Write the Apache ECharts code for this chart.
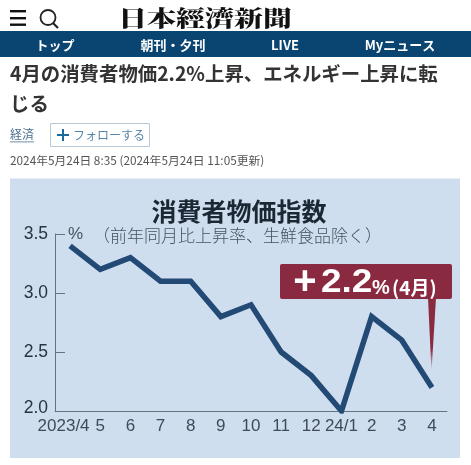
<!DOCTYPE html>
<html>
<head>
<meta charset="utf-8">
<style>
  html, body { margin: 0; padding: 0; background: #fff; }
  #chart { width: 471px; height: 465px; }
</style>
<script src="https://cdn.jsdelivr.net/npm/echarts@6/dist/echarts.min.js"></script>
</head>
<body>
<div id="chart"></div>
<script>
// 消費者物価指数
const months = ['2023/4', '5', '6', '7', '8', '9', '10', '11', '12', '24/1', '2', '3', '4'];
const cpi = [3.4, 3.2, 3.3, 3.1, 3.1, 2.8, 2.9, 2.5, 2.3, 2.0, 2.8, 2.6, 2.2];
const navItems = ['トップ', '朝刊・夕刊', 'LIVE', 'Myニュース'];
const headline = ['4月の消費者物価2.2%上昇、エネルギー上昇に転', 'じる'];
const dateline = '2024年5月24日 8:35 (2024年5月24日 11:05更新)';

const CJK = '"Noto Sans CJK JP", sans-serif';
const SANS = '"Liberation Sans", sans-serif';

const text = (str, x, y, font, fill, align) => ({
  type: 'text',
  z: 10,
  style: { text: str, x, y, font, fill, textAlign: align || 'left', textVerticalAlign: 'middle' }
});
const rect = (x, y, width, height, fill, extra) => ({
  type: 'rect',
  z: extra && extra.z !== undefined ? extra.z : 5,
  shape: { x, y, width, height, r: (extra && extra.r) || 0 },
  style: { fill, stroke: extra && extra.stroke, lineWidth: extra && extra.stroke ? 1 : 0 }
});
const navX = [55, 173, 285, 400];

const graphic = [
  // 記事ヘッダー
  rect(10, 10, 16, 2.4, '#111'),
  rect(10, 17, 16, 2.4, '#111'),
  rect(10, 23.5, 16, 2.4, '#111'),
  { type: 'circle', z: 5, shape: { cx: 48, cy: 17.5, r: 7.5 }, style: { fill: 'none', stroke: '#222', lineWidth: 1.8 } },
  { type: 'line', z: 5, shape: { x1: 53, y1: 23, x2: 58, y2: 28 }, style: { stroke: '#222', lineWidth: 2.2 } },
  {
    type: 'text', z: 10, x: 118, y: 18, scaleY: 0.75,
    style: { text: '日本經濟新聞', x: 0, y: 0, font: '900 29px "Noto Serif CJK JP", ' + CJK, fill: '#111', textVerticalAlign: 'middle' }
  },
  rect(0, 31, 471, 26, '#0a4470'),
  ...navItems.map((s, i) => text(s, navX[i], 45, 'bold 13px ' + CJK, '#fff', 'center')),
  text(headline[0], 10, 74, 'bold 19.4px ' + CJK, '#333'),
  text(headline[1], 10, 104, 'bold 19.4px ' + CJK, '#333'),
  text('経済', 10, 134, '12px ' + CJK, '#4a7090'),
  rect(10, 141.5, 24, 0.8, '#4a7090'),
  rect(50.5, 123.5, 99, 23, '#fff', { stroke: '#b9c9d8' }),
  rect(57, 134, 12, 2, '#1a6a9f'),
  rect(62, 129, 2, 12, '#1a6a9f'),
  text('フォローする', 73, 135, '12px ' + CJK, '#5585a8'),
  text(dateline, 10, 161, '11.8px ' + CJK, '#555'),

  // グラフの背景
  rect(10, 178.5, 450, 279.5, '#cfdeef', { z: -1 }),
  text('消費者物価指数', 239, 211, 'bold 25px ' + CJK, '#1b2733', 'center'),
  text('%', 68, 234, '17px ' + SANS, '#46525e'),
  text('（前年同月比上昇率、生鮮食品除く）', 93, 236, '300 17px ' + CJK, '#46525e'),

  // 吹き出し
  {
    type: 'polygon', z: 5,
    shape: { points: [[428, 298], [436, 298], [431.5, 372]] },
    style: {
      fill: {
        type: 'linear', x: 0, y: 0, x2: 0, y2: 1,
        colorStops: [{ offset: 0, color: '#8a2a40' }, { offset: 0.7, color: '#8a2a40' }, { offset: 1, color: 'rgba(138,42,64,0)' }]
      }
    }
  },
  rect(280, 264, 172, 35, '#8a2a40', { r: 2 }),
  text('+', 305, 283, 'bold 40px ' + SANS, '#fff', 'center'),
  {
    type: 'text', z: 10, x: 321, y: 283, scaleX: 1.12,
    style: { text: '2.2', x: 0, y: 0, font: 'bold 33px ' + SANS, fill: '#fff', textVerticalAlign: 'middle' }
  },
  text('%', 372, 288, 'bold 20px ' + SANS, '#fff'),
  text('(4月)', 392, 288, 'bold 19px ' + CJK, '#fff')
];

const myChart = echarts.init(document.getElementById('chart'), null, { renderer: 'canvas' });

myChart.setOption({
  animation: false,
  backgroundColor: '#fff',
  graphic: { elements: graphic },
  grid: { left: 55, right: 24, top: 234, height: 177 },
  xAxis: {
    type: 'category',
    data: months,
    axisLine: { lineStyle: { color: '#66727e', width: 1 } },
    axisTick: { alignWithLabel: true, inside: true, length: 5, lineStyle: { color: '#66727e' } },
    axisLabel: {
      interval: 0,
      margin: 7,
      color: '#3f4b57',
      fontFamily: SANS,
      fontSize: 17,
      formatter: (v, i) => (i === 0 ? '{first|' + v + '}' : v),
      rich: { first: { padding: [0, 13, 0, 0], color: '#3f4b57', fontFamily: SANS, fontSize: 17 } }
    }
  },
  yAxis: {
    type: 'value',
    min: 2,
    max: 3.5,
    interval: 0.5,
    splitLine: { show: false },
    axisLine: { show: true, lineStyle: { color: '#66727e', width: 1 } },
    axisTick: { show: true, inside: true, length: 10, lineStyle: { color: '#66727e' } },
    axisLabel: {
      margin: 7,
      color: '#28343f',
      fontFamily: SANS,
      fontSize: 17.5,
      formatter: v => (v === 2 ? '{low|2.0}' : v.toFixed(1)),
      rich: { low: { padding: [0, 0, 5, 0], color: '#28343f', fontFamily: SANS, fontSize: 17.5 } }
    }
  },
  series: [
    {
      type: 'line',
      data: cpi,
      symbol: 'none',
      z: 3,
      lineStyle: { color: '#234a74', width: 5.5, join: 'miter', cap: 'butt' }
    }
  ]
});
</script>
</body>
</html>
